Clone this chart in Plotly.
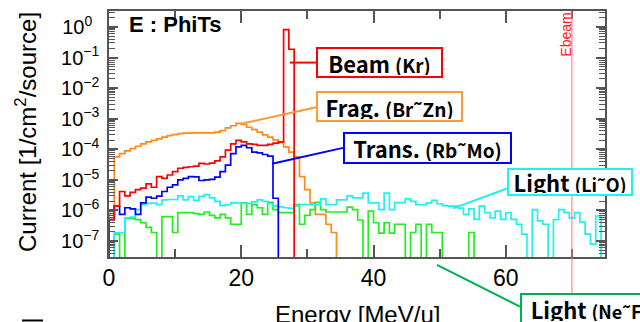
import plotly.graph_objects as go

# ---------------- data ----------------
# histogram bins of 0.8 MeV/u starting at 0; values given as log10(current); None = empty bin
bin_width = 0.8

beam_log10 = [-6.3, -5.86, -5.38, -5.52, -5.41, -5.32, -5.27, -5.13, -5.24, -4.89,
              -4.95, -4.84, -4.73, -4.62, -4.59, -4.57, -4.55, -4.46, -4.48, -4.45,
              -4.38, -4.25, -4.03, -3.82, -3.71, -3.76, -3.82, -3.84, -3.87, -3.87,
              -3.84, -3.80, -3.76, -0.09, -0.73]

frag_log10 = [-6.1, -4.25, -4.14, -4.05, -3.98, -3.90, -3.82, -3.76, -3.71, -3.66,
              -3.60, -3.55, -3.52, -3.49, -3.47, -3.47, -3.46, -3.46, -3.46, -3.46,
              -3.44, -3.39, -3.30, -3.23, -3.15, -3.19, -3.28, -3.36, -3.44, -3.53,
              -3.60, -3.69, -3.78, -3.92, -4.09, -4.25, -4.89, -5.32, -5.75, -6.13,
              -6.13, -6.45, -6.72]

trans_log10 = [-6.3, -5.86, -6.13, -5.91, -5.95, -6.13, -5.75, -5.56, -5.60, -5.53,
               -5.38, -5.24, -5.16, -5.00, -4.95, -4.89, -4.90, -5.02, -5.00, -4.98,
               -4.91, -4.73, -4.52, -4.14, -3.92, -3.87, -3.95, -4.09, -4.12, -4.17,
               -4.22, -5.60]

light_lio_log10 = [None, -6.72, -6.72, -6.24, -6.22, -5.97, -5.81, -5.77, -5.76, -5.81,
                   -5.65, -5.64, -5.64, -5.52, -5.65, -5.55, -5.67, -5.54, -5.48, -5.59,
                   -5.70, -5.84, -5.81, -5.75, -5.76, -5.77, -5.77, -5.72, -5.65, -5.70,
                   -5.78, -5.85, -5.88, -5.91, -5.93, -5.86, -5.81, -5.81, -5.81, -5.81,
                   -5.62, -5.81, -5.81, -5.65, -5.65, -5.52, -5.59, -5.59, -5.43, -5.75,
                   -5.75, -5.97, -5.43, -5.97, -5.74, -5.74, -5.62, -5.70, -5.81, -5.81,
                   -5.75, -5.67, -5.78, -5.84, -5.86, -5.86, -5.92, -6.13, -5.95, -6.29,
                   -5.86, -6.07, -6.24, -6.02, -6.29, -6.07, -6.29, -6.45, -6.77, None,
                   -5.97, -6.34, -6.45, None, -6.30, -5.97, -6.07, -6.24, -6.07, -6.38,
                   -6.77, -7.10, -6.18]

light_nef_log10 = [None, -6.77, None, -6.27, -6.27, -6.30, -6.40, -6.55, -6.72, None,
                   -6.20, -6.20, -6.72, -6.07, -6.07, -6.07, -6.10, -6.13, -6.05, -6.16,
                   -6.24, -6.13, -6.24, -6.45, -6.45, -5.75, -6.13, -5.81, -5.91, -6.13,
                   -5.73, -5.97, -6.07, -6.07, -6.07, -5.81, -6.45, -6.16, -5.97, -5.73,
                   -5.97, -6.05, -6.05, -6.05, -6.05, -5.89, -5.97, -6.31, None, -6.02,
                   -6.40, -6.74, -6.40, -6.74, -6.45, -6.45, None, -6.72, -6.45, None,
                   -6.45, -6.72, -6.72, None, None, None, None, None, -6.72]

e_beam = 70  # MeV/u

x_tick_vals = [0, 20, 40, 60]
x_tick_text = ["0", "20", "40", "60"]
x_minor_vals = [10, 30, 50, 70]
y_tick_exps = [0, -1, -2, -3, -4, -5, -6, -7]
y_tick_text = ["10<sup>0\u2002</sup>", "10<sup>\u22121</sup>", "10<sup>\u22122</sup>",
               "10<sup>\u22123</sup>", "10<sup>\u22124</sup>", "10<sup>\u22125</sup>",
               "10<sup>\u22126</sup>", "10<sup>\u22127</sup>"]

# ---------------- figure ----------------
FLOOR = 1e-12
W, H = 640, 322
ML, MR, MT, MB = 109, 35, 9, 65
PW, PH = W - ML - MR, H - MT - MB


def px(xp):
    return (xp - ML) / PW


def py(yp):
    return (H - MB - yp) / PH


def step_xy(vals):
    n = len(vals)
    ys = [FLOOR if v is None else 10 ** v for v in vals]
    xs = [0.0] + [i * bin_width for i in range(n)] + [n * bin_width, n * bin_width]
    yy = [FLOOR] + ys + [ys[-1], FLOOR]
    return xs, yy


fig = go.Figure()
series = [
    ("Frag.", frag_log10, "#ff8c1a"),
    ("Light (Ne~F)", light_nef_log10, "#22ee22"),
    ("Light (Li~O)", light_lio_log10, "#22f0f0"),
    ("Trans.", trans_log10, "#0000ff"),
    ("Beam", beam_log10, "#ff0000"),
]
for name, vals, col in series:
    xs, ys = step_xy(vals)
    fig.add_trace(go.Scatter(x=xs, y=ys, mode="lines", name=name,
                             line=dict(color=col, width=1.7, shape="hv"),
                             hoverinfo="skip"))

axcol = "#555555"
fig.update_xaxes(range=[0, 75], showline=True, linecolor=axcol, linewidth=1.5,
                 mirror="allticks", ticks="inside", ticklen=12, tickwidth=1.5,
                 tickcolor=axcol, tickmode="array", tickvals=x_tick_vals,
                 ticktext=x_tick_text, showgrid=False, zeroline=False,
                 tickfont=dict(family="Liberation Sans, Arial", size=23, color="black"),
                 minor=dict(tickmode="array", tickvals=x_minor_vals, ticks="inside",
                            ticklen=8, tickwidth=1.5, tickcolor=axcol, showgrid=False))

y_minor_vals = [m * 10.0 ** e for e in range(-8, 1) for m in range(2, 10)]
fig.update_yaxes(type="log", range=[-7.52, 0.52], showline=True, linecolor=axcol,
                 linewidth=1.5, mirror="allticks", ticks="inside", ticklen=9,
                 tickwidth=1.5, tickcolor=axcol, tickmode="array",
                 tickvals=[10.0 ** e for e in y_tick_exps], ticktext=y_tick_text,
                 showgrid=False, zeroline=False, ticklabelstandoff=4,
                 tickfont=dict(family="Liberation Sans, Arial", size=20, color="black"),
                 minor=dict(tickmode="array", tickvals=y_minor_vals, ticks="inside",
                            ticklen=6, tickwidth=1, tickcolor=axcol, showgrid=False))

lab_font = "Noto Sans CJK JP, Noto Sans, sans-serif"
ann = []
# axis titles
ann.append(dict(text="Current [1/cm<sup>2</sup>/source]", xref="paper", yref="paper",
                x=px(26), y=py(131), xanchor="center", yanchor="middle", textangle=-90,
                showarrow=False, font=dict(family="Liberation Sans, Arial", size=24,
                                           color="black")))
ann.append(dict(text="Energy [MeV/u]", xref="paper", yref="paper", x=px(357), y=py(299),
                xanchor="center", yanchor="top", showarrow=False,
                font=dict(family="Liberation Sans, Arial", size=24, color="black")))
# panel title
ann.append(dict(text="<b>E : PhiTs</b>", xref="paper", yref="paper", x=px(127), y=py(23),
                xanchor="left", yanchor="middle", showarrow=False,
                font=dict(family="Liberation Sans, Arial", size=22, color="black")))
# Ebeam
ann.append(dict(text="Ebeam", xref="x", yref="paper", x=e_beam - 0.95, y=py(9),
                xanchor="center", yanchor="top", textangle=-90, showarrow=False,
                font=dict(family="Liberation Sans, Arial", size=14, color="#ff2020")))

boxes = [
    # text, center px, size px, border color
    ("<b>Beam <span style='font-size:19px'>(Kr)</span></b>", (379.5, 60.5), (127, 31), "#ff0000"),
    ("<b>Frag. <span style='font-size:19px'>(Br˜Zn)</span></b>", (389.5, 105.5), (147, 31), "#ff9933"),
    ("<b>Trans. <span style='font-size:19px'>(Rb˜Mo)</span></b>", (427.5, 147), (169, 32), "#0000ff"),
    ("<b>Light <span style='font-size:18px'>(Li˜O)</span></b>", (570, 181), (126, 28), "#22f0f0"),
    ("<b>Light <span style='font-size:18px'>(Ne˜F)</span></b>", (589.5, 308.5), (139, 31), "#00b050"),
]
for text, (cx, cy), (bw, bh), col in boxes:
    ann.append(dict(text=text, xref="paper", yref="paper", x=px(cx), y=py(cy),
                    xanchor="center", yanchor="middle", showarrow=False,
                    width=bw - 6, height=bh - 6, bordercolor=col, borderwidth=2,
                    borderpad=1, bgcolor="white",
                    font=dict(family=lab_font, size=22, color="black")))

connectors = [
    ((290, 61), (316, 61), "#ff0000"),
    ((240, 123), (316, 106), "#ff9933"),
    ((272, 163), (343, 147), "#0000ff"),
    ((453, 208), (507, 188), "#22f0f0"),
    ((437, 265), (520, 307), "#00b050"),
]
shapes = []
for (x0, y0), (x1, y1), col in connectors:
    shapes.append(dict(type="line", xref="paper", yref="paper", x0=px(x0), y0=py(y0),
                       x1=px(x1), y1=py(y1), line=dict(color=col, width=2)))
shapes.append(dict(type="line", xref="x", yref="paper", x0=e_beam, x1=e_beam, y0=-0.3,
                   y1=1, line=dict(color="#ff7070", width=1), layer="above"))
shapes.append(dict(type="line", xref="paper", yref="paper", x0=px(22), x1=px(43),
                   y0=py(321), y1=py(321), line=dict(color="black", width=2)))

fig.update_layout(width=W, height=H, autosize=False,
                  margin=dict(l=ML, r=MR, t=MT, b=MB, pad=0),
                  plot_bgcolor="white", paper_bgcolor="white", showlegend=False,
                  annotations=ann, shapes=shapes)

fig.write_html("out.html")
